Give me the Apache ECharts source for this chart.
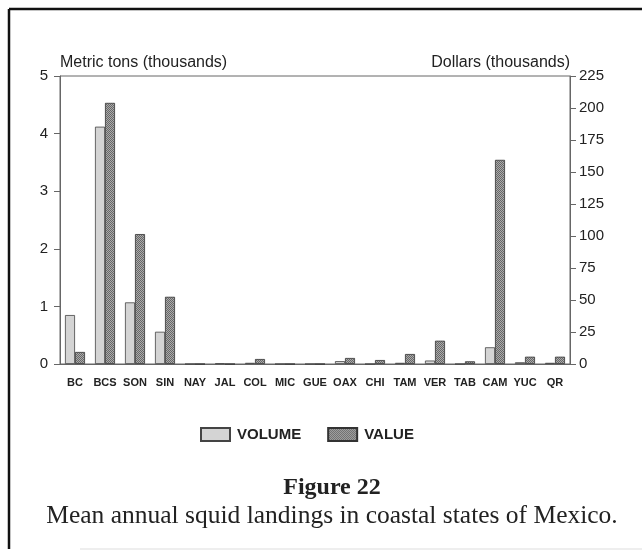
<!DOCTYPE html>
<html>
<head>
<meta charset="utf-8">
<script src="https://cdn.jsdelivr.net/npm/echarts@6/dist/echarts.min.js"></script>
<style>
  html, body { margin: 0; padding: 0; background: #fff; }
  #chart { width: 642px; height: 551px; }
</style>
</head>
<body>
<div id="chart"></div>
<script>
// states along the coast, north-west to south-east
var states = ['BC', 'BCS', 'SON', 'SIN', 'NAY', 'JAL', 'COL', 'MIC', 'GUE',
              'OAX', 'CHI', 'TAM', 'VER', 'TAB', 'CAM', 'YUC', 'QR'];
// metric tons (thousands)
var volume = [0.85, 4.12, 1.07, 0.56, 0, 0.01, 0.02, 0, 0, 0.05, 0, 0.02, 0.06, 0, 0.29, 0.03, 0.02];
// dollars (thousands)
var value = [9.4, 204, 101.5, 52.5, 0, 0, 3.9, 0, 0, 4.7, 3.1, 7.8, 18.2, 2.1, 159.5, 5.7, 5.7];

var tonTicks = [0, 5, 1];      // min, max, interval
var dollarTicks = [0, 225, 25];

// fine stipple fill for the VALUE bars
function hatch() {
    var c = document.createElement('canvas');
    c.width = 2; c.height = 2;
    var ctx = c.getContext('2d');
    ctx.fillStyle = '#ababab';
    ctx.fillRect(0, 0, 2, 2);
    ctx.fillStyle = '#676767';
    ctx.fillRect(0, 0, 1, 1);
    ctx.fillRect(1, 1, 1, 1);
    return c;
}

var myChart = echarts.init(document.getElementById('chart'));
var axisColor = '#666';
var textColor = '#222';
var sans = 'Liberation Sans';

var option = {
    backgroundColor: '#fff',
    animation: false,
    title: {
        text: 'Figure 22',
        subtext: 'Mean annual squid landings in coastal states of Mexico.',
        left: 327,
        top: 471,
        textAlign: 'center',
        itemGap: 3,
        textStyle: {
            color: textColor,
            fontFamily: 'Liberation Serif',
            fontSize: 24,
            fontWeight: 'bold'
        },
        subtextStyle: {
            color: textColor,
            fontFamily: 'Liberation Serif',
            fontSize: 25.5
        }
    },
    legend: {
        data: ['VOLUME', 'VALUE'],
        left: 195,
        top: 422,
        itemWidth: 29,
        itemHeight: 13,
        itemGap: 26,
        icon: 'rect',
        textStyle: {
            color: textColor,
            fontFamily: sans,
            fontSize: 15,
            fontWeight: 'bold',
            padding: [0, 0, 0, 2]
        }
    },
    grid: {
        left: 60,
        right: 72,
        top: 76,
        bottom: 187,
        show: true,
        borderColor: axisColor,
        borderWidth: 1
    },
    xAxis: {
        type: 'category',
        data: states,
        axisLine: { lineStyle: { color: axisColor } },
        axisTick: { alignWithLabel: true, length: 4, lineStyle: { color: axisColor } },
        axisLabel: {
            margin: 13,
            interval: 0,
            color: textColor,
            fontFamily: sans,
            fontSize: 11,
            fontWeight: 'bold'
        }
    },
    yAxis: [
        {
            type: 'value',
            name: 'Metric tons (thousands)',
            nameGap: 5,
            nameTextStyle: { color: textColor, fontFamily: sans, fontSize: 16, align: 'left' },
            min: tonTicks[0],
            max: tonTicks[1],
            interval: tonTicks[2],
            position: 'left',
            splitLine: { show: false },
            axisLine: { show: true, lineStyle: { color: axisColor } },
            axisTick: { show: true, length: 6, lineStyle: { color: axisColor } },
            axisLabel: { margin: 12, color: textColor, fontFamily: sans, fontSize: 15 }
        },
        {
            type: 'value',
            name: 'Dollars (thousands)',
            nameGap: 5,
            nameTextStyle: { color: textColor, fontFamily: sans, fontSize: 16, align: 'right' },
            min: dollarTicks[0],
            max: dollarTicks[1],
            interval: dollarTicks[2],
            position: 'right',
            splitLine: { show: false },
            axisLine: { show: true, lineStyle: { color: axisColor } },
            axisTick: { show: true, length: 6, lineStyle: { color: axisColor } },
            axisLabel: { margin: 9, color: textColor, fontFamily: sans, fontSize: 15 }
        }
    ],
    series: [
        {
            name: 'VOLUME',
            type: 'bar',
            yAxisIndex: 0,
            barWidth: 10,
            barGap: '0%',
            data: volume,
            itemStyle: { color: '#d4d4d4', borderColor: '#444', borderWidth: 0.8 }
        },
        {
            name: 'VALUE',
            type: 'bar',
            yAxisIndex: 1,
            barWidth: 10,
            barGap: '0%',
            data: value,
            itemStyle: {
                color: { image: hatch(), repeat: 'repeat' },
                borderColor: '#333',
                borderWidth: 0.8
            }
        }
    ],
    // page frame of the printed figure
    graphic: [
        { type: 'line', shape: { x1: 9, y1: 9, x2: 642, y2: 9 }, style: { stroke: '#111', lineWidth: 2.5 } },
        { type: 'line', shape: { x1: 9, y1: 9, x2: 9, y2: 549 }, style: { stroke: '#111', lineWidth: 2.5 } },
        { type: 'line', shape: { x1: 80, y1: 549, x2: 642, y2: 549 }, style: { stroke: '#ddd', lineWidth: 1 } }
    ]
};
myChart.setOption(option);

window.addEventListener('resize', function () {
    myChart.resize();
});
</script>
</body>
</html>
